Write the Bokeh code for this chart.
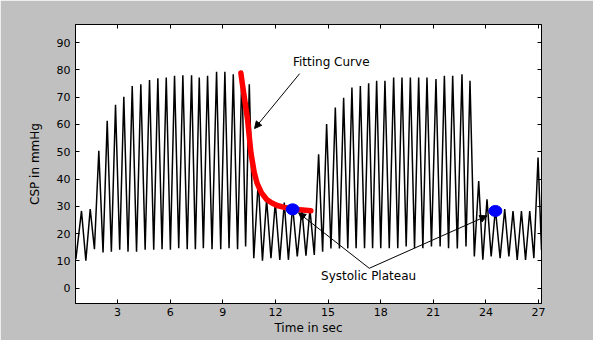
from bokeh.plotting import figure
from bokeh.models import Range1d, FixedTicker, LinearAxis, Label, Arrow, NormalHead
from bokeh.embed import file_html
from bokeh.resources import INLINE

# ---- data ----
peak_t = [0.942, 1.439, 1.929, 2.408, 2.882, 3.355, 3.834, 4.325, 4.821, 5.295,
          5.774, 6.247, 6.721, 7.217, 7.656, 8.130, 8.643, 9.117, 9.596, 10.087,
          10.509, 11.022, 11.496, 11.992, 12.505, 12.979, 13.509, 13.966, 14.462, 14.918,
          15.414, 15.888, 16.361, 16.841, 17.314, 17.770, 18.244, 18.740, 19.214, 19.693,
          20.166, 20.640, 21.153, 21.632, 22.106, 22.636, 23.093, 23.589, 24.063, 24.542,
          25.073, 25.546, 26.026, 26.499, 26.973]
peak_v = [28.3, 29.0, 50.3, 61.3, 67.2, 70.1, 74.1, 74.7, 76.3, 76.9,
          77.2, 77.8, 78.0, 78.0, 77.2, 77.8, 79.3, 79.3, 78.4, 79.0,
          74.7, 39.3, 32.6, 31.4, 31.4, 30.2, 28.9, 28.9, 49.1, 60.1,
          66.2, 69.8, 73.5, 74.1, 75.1, 76.0, 76.0, 77.2, 77.2, 77.2,
          77.2, 77.2, 76.6, 77.8, 77.8, 78.4, 76.0, 39.3, 32.6, 29.0,
          29.0, 28.3, 28.3, 28.3, 47.9]
trough_t = [0.62, 1.19, 1.68, 2.17, 2.645, 3.12, 3.595, 4.08, 4.57, 5.06, 5.535,
            6.01, 6.485, 6.97, 7.435, 7.89, 8.385, 8.88, 9.355, 9.84, 10.30,
            10.765, 11.26, 11.745, 12.25, 12.74, 13.245, 13.74, 14.215, 14.69, 15.165,
            15.65, 16.125, 16.60, 17.08, 17.54, 18.005, 18.49, 18.975, 19.455, 19.93,
            20.405, 20.895, 21.39, 21.87, 22.37, 22.865, 23.34, 23.825, 24.30, 24.81,
            25.31, 25.785, 26.26, 26.735, 27.17]
trough_v = [10.6, 10.1, 14.3, 13.1, 13.4, 14.1, 13.4, 13.4, 14.1, 14.1, 14.3,
            14.1, 14.6, 14.3, 14.3, 14.6, 14.3, 14.3, 14.6, 14.3, 15.3,
            11.0, 10.1, 11.0, 10.4, 10.4, 11.6, 11.9, 12.2, 13.4, 14.6,
            14.6, 14.6, 14.6, 14.6, 14.6, 14.6, 14.6, 14.6, 15.3, 14.6,
            14.6, 15.3, 15.3, 14.6, 14.6, 15.3, 11.6, 10.4, 11.6, 11.0,
            11.6, 10.4, 10.4, 11.0, 14.0]

fit_t = [10.03, 10.13, 10.41, 10.60, 10.79, 10.95, 11.2, 11.5, 11.8, 12.1, 12.5, 12.9, 13.4, 14.02]
fit_v = [78.8, 74.1, 61.9, 49.7, 42.4, 38.5, 35.0, 32.5, 31.2, 30.3, 29.6, 29.1, 28.7, 28.4]

plateau_t = [12.98, 24.54]
plateau_v = [28.9, 28.3]

x_ticks = [3, 6, 9, 12, 15, 18, 21, 24, 27]
y_ticks = [0, 10, 20, 30, 40, 50, 60, 70, 80, 90]

# interleave troughs and peaks into one polyline
sig_t, sig_v = [], []
for i in range(len(peak_t)):
    sig_t += [trough_t[i], peak_t[i]]
    sig_v += [trough_v[i], peak_v[i]]
sig_t.append(trough_t[-1])
sig_v.append(trough_v[-1])

FONT = "DejaVu Sans"

p = figure(width=593, height=340, x_range=Range1d(0.6, 27.17), y_range=Range1d(-5.6, 96.6),
           output_backend="svg", toolbar_location=None,
           min_border_left=75, min_border_right=52, min_border_top=24, min_border_bottom=37,
           border_fill_color="#c0c0c0", background_fill_color="white",
           outline_line_color="black", outline_line_width=1)
p.xgrid.visible = False
p.ygrid.visible = False

def style_axis(ax, ticks):
    ax.ticker = FixedTicker(ticks=ticks)
    ax.axis_line_color = "black"
    ax.major_tick_line_color = "black"
    ax.major_tick_in = 4
    ax.major_tick_out = 0
    ax.minor_tick_line_color = None
    ax.major_label_text_font = FONT
    ax.major_label_text_font_size = "11px"
    ax.major_label_text_color = "black"
    ax.axis_label_text_font = FONT
    ax.axis_label_text_font_size = "12px"
    ax.axis_label_text_font_style = "normal"
    ax.axis_label_text_color = "black"

style_axis(p.xaxis[0], x_ticks)
style_axis(p.yaxis[0], y_ticks)
p.xaxis[0].axis_label = "Time in sec"
p.yaxis[0].axis_label = "CSP in mmHg"
p.xaxis[0].major_label_standoff = 4
p.yaxis[0].major_label_standoff = 5
p.xaxis[0].axis_label_standoff = 2
p.yaxis[0].axis_label_standoff = 12

top = LinearAxis()
style_axis(top, x_ticks)
top.major_label_text_color = None
top.major_label_text_font_size = "1px"
p.add_layout(top, "above")
right = LinearAxis()
style_axis(right, y_ticks)
right.major_label_text_color = None
right.major_label_text_font_size = "1px"
p.add_layout(right, "right")

p.line(sig_t, sig_v, line_color="black", line_width=1.5)
p.line(fit_t, fit_v, line_color="red", line_width=5.5, line_cap="round", line_join="round")
p.ellipse(x=plateau_t, y=plateau_v, width=13, height=11, width_units="screen",
          height_units="screen", fill_color="#0000ff", line_color="#0000ff")

p.add_layout(Label(x=13.0, y=82.7, text="Fitting Curve", text_font=FONT,
                   text_font_size="12px", text_baseline="middle", text_color="black"))
p.add_layout(Label(x=14.6, y=4.3, text="Systolic Plateau", text_font=FONT,
                   text_font_size="12px", text_baseline="middle", text_color="black"))

def arrow(x0, y0, x1, y1):
    p.add_layout(Arrow(end=NormalHead(size=7, fill_color="black", line_color="black"),
                       x_start=x0, y_start=y0, x_end=x1, y_end=y1,
                       line_color="black", line_width=1))

arrow(13.38, 78.6, 10.81, 58.5)
arrow(17.35, 7.3, 13.32, 27.6)
arrow(17.35, 7.3, 24.06, 26.5)

open("out.html", "w").write(file_html(p, INLINE))
